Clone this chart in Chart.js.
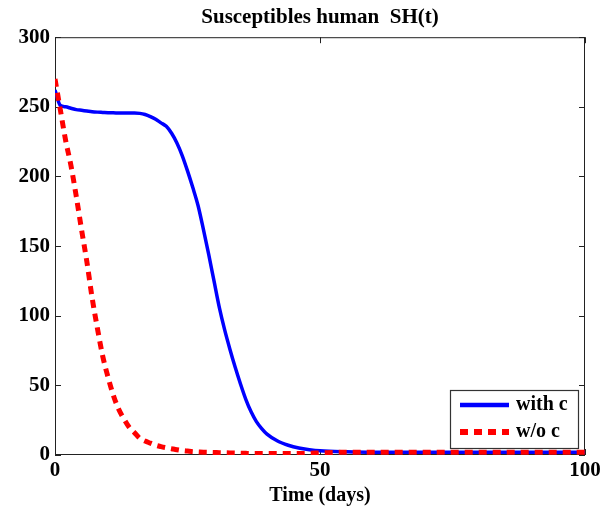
<!DOCTYPE html>
<html>
<head>
<meta charset="utf-8">
<script src="https://cdn.jsdelivr.net/npm/chart.js@4.4.0/dist/chart.umd.min.js"></script>
<style>
  body { margin: 0; background: #fff; }
  #wrap { width: 611px; height: 508px; }
</style>
</head>
<body>
<div id="wrap"><canvas id="sh" width="611" height="508"></canvas></div>
<script>
// time samples (days) shared by both curves
var days = [0, 1, 2, 3, 4, 5, 6, 7, 8, 9, 10, 11, 12, 13, 14, 15, 16, 17, 18, 19, 20,
  21, 22, 23, 24, 25, 26, 27, 28, 29, 30, 31, 32, 33, 34, 35, 36, 37, 38, 39, 40,
  42, 44, 46, 48, 50, 55, 60, 65, 70, 75, 80, 85, 90, 95, 100];

// with control
var withC = [262, 251, 250, 249, 248, 247.5, 247, 246.5, 246.2, 246, 245.8, 245.7, 245.6, 245.5, 245.5, 245.5, 245.3, 244.5, 243, 241, 238.5,
  236, 231, 224, 215, 204, 192, 179, 162, 144, 125, 106, 90, 76, 63, 51, 40, 31, 24, 19, 15,
  10, 7, 5, 3.8, 3, 2.3, 2, 2, 2, 2, 2, 2, 2, 2, 2];

// without control
var withoutC = [270, 248, 226, 208, 186, 162, 139, 113, 91, 71, 56, 43, 33, 26, 20, 16, 12, 10, 8.5, 7, 6,
  5.2, 4.5, 3.8, 3.2, 2.8, 2.4, 2.2, 2, 1.9, 1.8, 1.7, 1.6, 1.5, 1.4, 1.3, 1.2, 1.1, 1.1, 1, 1,
  1, 1, 1, 1.2, 1.5, 2, 2, 2, 2, 2, 2, 2, 2, 2, 2];

var xTicks = [0, 50, 100];
var yTicks = [0, 50, 100, 150, 200, 250, 300];

var serif = "'Liberation Serif', 'Times New Roman', serif";

function pts(vals) {
  return days.map(function(d, i) { return { x: d, y: vals[i] }; });
}

// box around the axes + inward ticks on all four sides
var boxPlugin = {
  id: 'box',
  beforeDatasetsDraw: function(chart) {
    var ctx = chart.ctx, a = chart.chartArea;
    var xs = chart.scales.x, ys = chart.scales.y;
    ctx.save();
    ctx.strokeStyle = '#222';
    ctx.lineWidth = 1;
    ctx.strokeRect(a.left + 0.5, a.top + 0.5, a.right - a.left - 1, a.bottom - a.top - 1);
    ctx.beginPath();
    xTicks.forEach(function(v) {
      var px = Math.round(xs.getPixelForValue(v)) + 0.5;
      ctx.moveTo(px, a.bottom); ctx.lineTo(px, a.bottom - 6);
      ctx.moveTo(px, a.top); ctx.lineTo(px, a.top + 6);
    });
    yTicks.forEach(function(v) {
      var py = Math.round(ys.getPixelForValue(v)) + 0.5;
      ctx.moveTo(a.left, py); ctx.lineTo(a.left + 6, py);
      ctx.moveTo(a.right, py); ctx.lineTo(a.right - 6, py);
    });
    ctx.stroke();
    ctx.restore();
  }
};

// legend box in the lower right corner of the axes
var legendPlugin = {
  id: 'boxLegend',
  afterDraw: function(chart) {
    var ctx = chart.ctx, a = chart.chartArea;
    var w = 128, h = 58;
    var x0 = a.right - 7 - w, y0 = a.bottom - 7 - h;
    ctx.save();
    ctx.fillStyle = '#fff';
    ctx.fillRect(x0, y0, w, h);
    ctx.strokeStyle = '#333';
    ctx.lineWidth = 1.2;
    ctx.strokeRect(x0 + 0.5, y0 + 0.5, w, h);
    chart.data.datasets.forEach(function(ds, i) {
      var yy = y0 + 15 + i * 27;
      ctx.beginPath();
      ctx.strokeStyle = ds.borderColor;
      ctx.lineWidth = ds.borderWidth + 1;
      ctx.setLineDash(ds.borderDash || []);
      ctx.moveTo(x0 + 10, yy);
      ctx.lineTo(x0 + 59, yy);
      ctx.stroke();
      ctx.setLineDash([]);
      ctx.fillStyle = '#000';
      ctx.font = 'bold 20px ' + serif;
      ctx.textBaseline = 'middle';
      ctx.fillText(ds.label, x0 + 66, yy);
    });
    ctx.restore();
  }
};

new Chart(document.getElementById('sh'), {
  type: 'line',
  data: {
    datasets: [
      {
        label: 'with c',
        data: pts(withC),
        borderColor: '#0000ff',
        borderWidth: 3.5,
        pointRadius: 0,
        cubicInterpolationMode: 'monotone',
        order: 2
      },
      {
        label: 'w/o c',
        data: pts(withoutC),
        borderColor: '#ff0000',
        borderWidth: 5,
        borderDash: [8, 6],
        pointRadius: 0,
        cubicInterpolationMode: 'monotone',
        order: 1
      }
    ]
  },
  options: {
    responsive: false,
    animation: false,
    layout: { padding: { left: 0, right: 26, top: 0, bottom: 0 } },
    plugins: {
      legend: { display: false },
      tooltip: { enabled: false },
      title: {
        display: true,
        text: 'Susceptibles human  SH(t)',
        fullSize: false,
        color: '#000',
        font: { family: serif, size: 21, weight: 'bold' },
        padding: { top: 5, bottom: 7 }
      }
    },
    scales: {
      x: {
        type: 'linear',
        min: 0,
        max: 100,
        afterBuildTicks: function(s) { s.ticks = xTicks.map(function(v) { return { value: v }; }); },
        afterFit: function(s) { s.height = 53; },
        grid: { display: false, drawTicks: false },
        border: { display: false },
        ticks: { color: '#000', font: { family: serif, size: 21, weight: 'bold' }, padding: 3, maxRotation: 0 },
        title: {
          display: true,
          text: 'Time (days)',
          color: '#000',
          font: { family: serif, size: 20, weight: 'bold' },
          padding: { top: 0, bottom: 0 }
        }
      },
      y: {
        min: 0,
        max: 300,
        afterBuildTicks: function(s) { s.ticks = yTicks.map(function(v) { return { value: v }; }); },
        afterFit: function(s) { s.width = 55; },
        grid: { display: false, drawTicks: false },
        border: { display: false },
        ticks: { color: '#000', font: { family: serif, size: 21, weight: 'bold' }, padding: 5 }
      }
    }
  },
  plugins: [boxPlugin, legendPlugin]
});
</script>
</body>
</html>
